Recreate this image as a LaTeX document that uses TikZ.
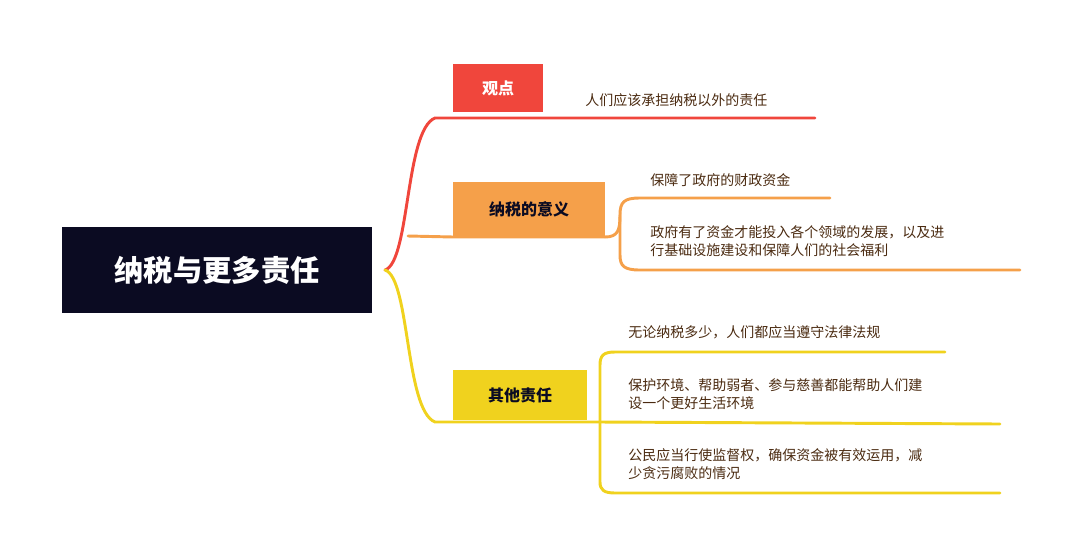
\documentclass[tikz,border=0pt]{standalone}
\usepackage{fontspec}
\setmainfont{Noto Sans CJK SC}
\usetikzlibrary{positioning}
\definecolor{navy}{HTML}{0B0B22}
\definecolor{redb}{HTML}{F0463C}
\definecolor{orangeb}{HTML}{F5A04A}
\definecolor{yellowb}{HTML}{F0D21E}
\definecolor{leaftxt}{HTML}{4A2A10}
\tikzset{
  topic/.style={rectangle,inner sep=0pt,font=\bfseries\fontsize{12pt}{14pt}\selectfont},
  leaf/.style={anchor=west,align=left,text=leaftxt,font=\fontsize{10.5pt}{14pt}\selectfont,inner sep=0pt},
  link/.style={line width=2.2pt,line cap=round}
}
\begin{document}
\begin{tikzpicture}[x=0.75pt,y=-0.75pt]
\useasboundingbox (0,0) rectangle (1080,557);
% root
\node[rectangle,fill=navy,minimum width=310*0.75pt,minimum height=86*0.75pt,text=white,
  font=\bfseries\fontsize{22pt}{26pt}\selectfont] (root) at (217,270) {纳税与更多责任};
% main topics
\node[topic,fill=redb,text=white,minimum width=90*0.75pt,minimum height=48*0.75pt] (view) at (498,88) {观点};
\node[topic,fill=orangeb,text=navy,minimum width=152*0.75pt,minimum height=54*0.75pt] (mean) at (529,209) {纳税的意义};
\node[topic,fill=yellowb,text=navy,minimum width=134*0.75pt,minimum height=50*0.75pt] (other) at (520,395) {其他责任};
\coordinate (fork) at (385,270);
\coordinate (vu) at (453,118);
\coordinate (ou) at (453,422);
\draw[link,redb] (fork) .. controls (410,262) and (405,130) .. (435,118) -- (vu) -- (570,118) -- (815,118);
\draw[link,orangeb] (408,236) -- (453,237) -- (605,237);
\draw[link,yellowb] (fork) .. controls (410,278) and (405,410) .. (435,422) -- (ou) -- (600,422);
% leaves
\node[leaf,text=leaftxt] (v1) at (585,100) {人们应该承担纳税以外的责任};
\node[leaf] (m1) at (650,180) {保障了政府的财政资金};
\node[leaf] (m2) at (650,241) {政府有了资金才能投入各个领域的发展，以及进\\行基础设施建设和保障人们的社会福利};
\draw[link,orangeb] (605,237) .. controls (618,237) and (620,230) .. (620,215)
  .. controls (620,202) and (624,198) .. (640,198) -- (830,198);
\draw[link,orangeb] (620,215) -- (620,255) .. controls (620,266) and (624,270) .. (640,270) -- (1020,270);
\node[leaf] (o1) at (628,332) {无论纳税多少，人们都应当遵守法律法规};
\node[leaf] (o2) at (628,394) {保护环境、帮助弱者、参与慈善都能帮助人们建\\设一个更好生活环境};
\node[leaf] (o3) at (628,464) {公民应当行使监督权，确保资金被有效运用，减\\少贪污腐败的情况};
\draw[link,yellowb] (600,422) -- (600,365) .. controls (600,355) and (604,352) .. (615,352) -- (945,352);
\draw[link,yellowb] (600,422) -- (1000,424);
\draw[link,yellowb] (600,422) -- (600,482) .. controls (600,490) and (604,493) .. (615,493) -- (1000,493);
\end{tikzpicture}
\end{document}
